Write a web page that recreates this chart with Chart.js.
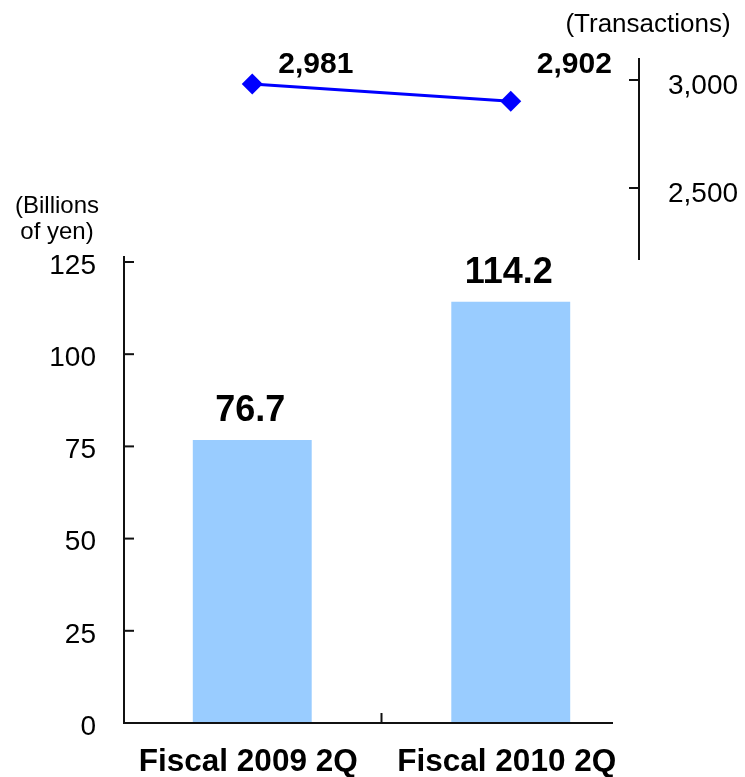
<!DOCTYPE html>
<html>
<head>
<meta charset="utf-8">
<script src="https://cdn.jsdelivr.net/npm/chart.js@4/dist/chart.umd.min.js"></script>
<style>
  html, body { margin: 0; padding: 0; background: #ffffff; }
  #wrap { width: 745px; height: 777px; }
</style>
</head>
<body>
<div id="wrap"><canvas id="c" width="745" height="777"></canvas></div>
<script>
// ---- data ----
const categories = ['Fiscal 2009 2Q', 'Fiscal 2010 2Q'];
const amountValues = [76.7, 114.2];          // Billions of yen (bars, left axis)
const transactionValues = [2981, 2902];      // Transactions (line, right axis)
const leftTicks = [0, 25, 50, 75, 100, 125];
const rightTicks = [2500, 3000];
const leftUnitLabel = ['(Billions', 'of yen)'];
const rightUnitLabel = '(Transactions)';

const FONT = "'Liberation Sans', Arial, Helvetica, sans-serif";
const fmt = v => Number(v).toLocaleString('en-US');

const overlay = {
  id: 'overlay',
  afterDatasetsDraw(chart) {
    const ctx = chart.ctx;
    const ca = chart.chartArea;
    const y = chart.scales.y, y2 = chart.scales.y2, x = chart.scales.x;
    ctx.save();
    ctx.strokeStyle = '#111';
    ctx.lineWidth = 2;
    ctx.lineCap = 'butt';
    // left axis
    const lx = ca.left + 1;
    ctx.beginPath();
    ctx.moveTo(lx, y.getPixelForValue(0) + 1);
    ctx.lineTo(lx, y.getPixelForValue(126.6));
    ctx.stroke();
    leftTicks.forEach(v => {
      const py = y.getPixelForValue(v);
      ctx.beginPath(); ctx.moveTo(lx, py); ctx.lineTo(lx + 10, py); ctx.stroke();
    });
    // x axis
    const by = y.getPixelForValue(0);
    ctx.beginPath();
    ctx.moveTo(ca.left, by);
    ctx.lineTo(ca.right - 27, by);
    ctx.stroke();
    const mid = (x.getPixelForValue(0) + x.getPixelForValue(1)) / 2;
    ctx.beginPath(); ctx.moveTo(mid, by); ctx.lineTo(mid, by - 10); ctx.stroke();
    // right axis
    const rx = ca.right - 1;
    ctx.beginPath();
    ctx.moveTo(rx, y2.getPixelForValue(3102));
    ctx.lineTo(rx, y2.getPixelForValue(2167));
    ctx.stroke();
    rightTicks.forEach(v => {
      const py = y2.getPixelForValue(v);
      ctx.beginPath(); ctx.moveTo(rx, py); ctx.lineTo(rx - 10, py); ctx.stroke();
    });

    // bar value labels
    ctx.fillStyle = '#000';
    ctx.font = 'bold 36px ' + FONT;
    ctx.textAlign = 'center';
    ctx.textBaseline = 'alphabetic';
    chart.getDatasetMeta(0).data.forEach((bar, i) => {
      ctx.fillText(amountValues[i].toFixed(1), bar.x - 2, bar.y - 19);
    });
    // line value labels
    ctx.font = 'bold 30px ' + FONT;
    ctx.textAlign = 'left';
    chart.getDatasetMeta(1).data.forEach((pt, i) => {
      ctx.fillText(fmt(transactionValues[i]), pt.x + 26, ca.top + 43);
    });

    // unit labels
    ctx.font = '24px ' + FONT;
    ctx.textAlign = 'center';
    ctx.textBaseline = 'middle';
    ctx.fillText(leftUnitLabel[0], 57, 206);
    ctx.fillText(leftUnitLabel[1], 57, 232);
    ctx.font = '26px ' + FONT;
    ctx.fillText(rightUnitLabel, 648, 25);
    ctx.restore();
  }
};

function noPad(s) {
  s.paddingTop = 0; s.paddingBottom = 0; s.paddingLeft = 0; s.paddingRight = 0;
}

new Chart(document.getElementById('c'), {
  data: {
    labels: categories,
    datasets: [
      {
        type: 'bar',
        data: amountValues,
        yAxisID: 'y',
        backgroundColor: '#99CCFF',
        borderWidth: 0,
        categoryPercentage: 1.0,
        barPercentage: 0.46,
        order: 2
      },
      {
        type: 'line',
        data: transactionValues,
        yAxisID: 'y2',
        borderColor: '#0000FF',
        backgroundColor: '#0000FF',
        borderWidth: 3,
        pointStyle: 'rectRot',
        pointRadius: 10.5,
        pointBorderWidth: 0,
        pointBackgroundColor: '#0000FF',
        tension: 0,
        clip: false,
        order: 1
      }
    ]
  },
  options: {
    responsive: false,
    animation: false,
    events: [],
    layout: { padding: { top: 30, left: 0, right: 0, bottom: 0 } },
    plugins: { legend: { display: false }, title: { display: false }, tooltip: { enabled: false } },
    scales: {
      x: {
        type: 'category',
        offset: true,
        grid: { display: false, drawTicks: false },
        border: { display: false },
        ticks: {
          color: '#000',
          font: { family: FONT, size: 31.5, weight: 'bold' },
          padding: 20,
          labelOffset: -4,
          maxRotation: 0,
          autoSkip: false
        },
        afterFit(s) { s.height = 54; noPad(s); }
      },
      y: {
        position: 'left',
        min: 0,
        max: 187.9,
        grid: { display: false, drawTicks: false },
        border: { display: false },
        ticks: {
          color: '#000',
          font: { family: FONT, size: 28 },
          padding: 27,
          labelOffset: 4,
          autoSkip: false
        },
        afterBuildTicks(s) { s.ticks = leftTicks.map(v => ({ value: v })); },
        afterFit(s) { s.width = 123; noPad(s); }
      },
      y2: {
        position: 'right',
        min: 23.1,
        max: 3231.5,
        grid: { display: false, drawTicks: false },
        border: { display: false },
        ticks: {
          color: '#000',
          font: { family: FONT, size: 28 },
          padding: 28,
          labelOffset: 6,
          autoSkip: false,
          callback: v => fmt(v)
        },
        afterBuildTicks(s) { s.ticks = rightTicks.map(v => ({ value: v })); },
        afterFit(s) { s.width = 105; noPad(s); }
      }
    }
  },
  plugins: [overlay]
});
</script>
</body>
</html>
